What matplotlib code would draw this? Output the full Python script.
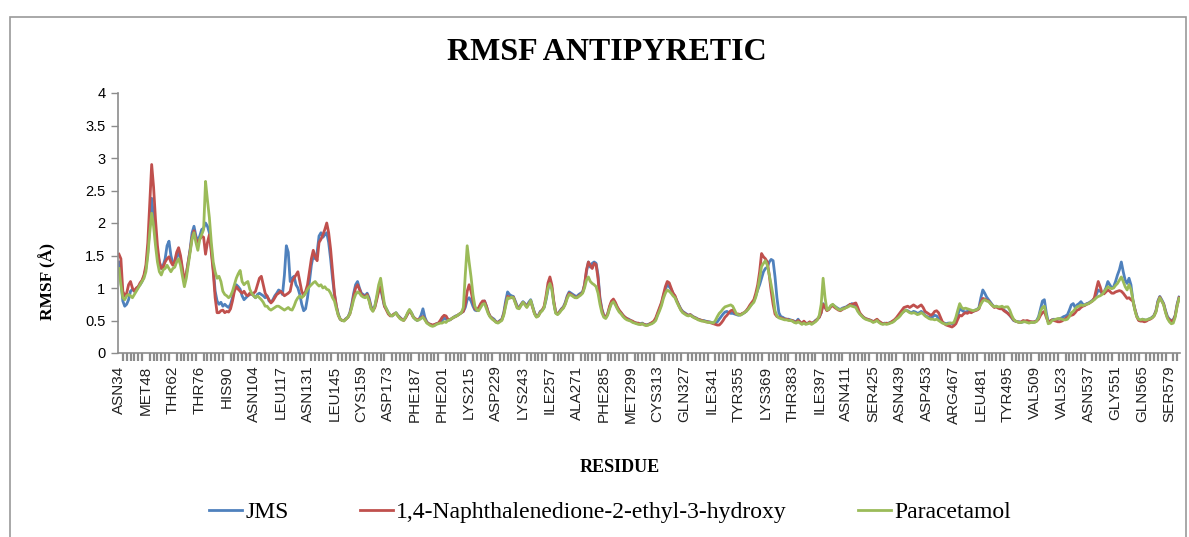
import numpy as np
import matplotlib
matplotlib.use("Agg")
import matplotlib.pyplot as plt
from matplotlib.patches import Rectangle
from matplotlib.ticker import MultipleLocator

# Etiquetas de residuo (una cada 14 posiciones)
residue_labels = [
    "ASN34", "MET48", "THR62", "THR76", "HIS90", "ASN104", "LEU117", "ASN131",
    "LEU145", "CYS159", "ASP173", "PHE187", "PHE201", "LYS215", "ASP229", "LYS243",
    "ILE257", "ALA271", "PHE285", "MET299", "CYS313", "GLN327", "ILE341", "TYR355",
    "LYS369", "THR383", "ILE397", "ASN411", "SER425", "ASN439", "ASP453", "ARG467",
    "LEU481", "TYR495", "VAL509", "VAL523", "ASN537", "GLY551", "GLN565", "SER579",
]
label_step = 14

# RMSF por residuo [Å]
jms = [
    1.40, 1.10, 0.80, 0.72, 0.75, 0.82, 0.95, 0.98, 0.95, 0.98, 1.02, 1.05, 1.10, 1.18,
    1.30, 1.55, 1.95, 2.38, 2.10, 1.80, 1.55, 1.40, 1.30, 1.35, 1.45, 1.65, 1.72, 1.50,
    1.38, 1.40, 1.48, 1.55, 1.45, 1.25, 1.10, 1.20, 1.40, 1.60, 1.85, 1.95, 1.80, 1.72,
    1.80, 1.90, 1.92, 2.00, 1.95, 1.85, 1.60, 1.30, 0.95, 0.80, 0.75, 0.78, 0.72, 0.75,
    0.72, 0.70, 0.75, 0.85, 0.98, 1.05, 1.02, 0.98, 0.88, 0.82, 0.85, 0.88, 0.90, 0.92,
    0.88, 0.85, 0.90, 0.92, 0.90, 0.88, 0.85, 0.88, 0.80, 0.78, 0.82, 0.88, 0.92, 0.97,
    0.95, 0.90, 1.20, 1.65, 1.55, 1.10, 1.15, 1.18, 1.05, 1.00, 0.90, 0.75, 0.65, 0.68,
    0.85, 1.10, 1.35, 1.50, 1.45, 1.55, 1.80, 1.85, 1.78, 1.82, 1.85, 1.70, 1.45, 1.15,
    0.90, 0.72, 0.60, 0.52, 0.50, 0.50, 0.53, 0.55, 0.62, 0.75, 0.92, 1.05, 1.10, 1.00,
    0.92, 0.90, 0.88, 0.92, 0.85, 0.72, 0.66, 0.72, 0.85, 0.98, 1.00, 0.85, 0.72, 0.68,
    0.62, 0.58, 0.57, 0.60, 0.62, 0.58, 0.55, 0.52, 0.51, 0.55, 0.60, 0.66, 0.62, 0.56,
    0.52, 0.50, 0.52, 0.58, 0.68, 0.55, 0.48, 0.45, 0.44, 0.42, 0.43, 0.45, 0.46, 0.47,
    0.50, 0.54, 0.52, 0.50, 0.51, 0.53, 0.55, 0.57, 0.58, 0.60, 0.62, 0.64, 0.70, 0.82,
    0.85, 0.80, 0.72, 0.66, 0.65, 0.68, 0.74, 0.78, 0.80, 0.72, 0.62, 0.56, 0.54, 0.52,
    0.48, 0.47, 0.50, 0.52, 0.62, 0.80, 0.94, 0.90, 0.88, 0.87, 0.80, 0.72, 0.70, 0.75,
    0.79, 0.76, 0.72, 0.78, 0.82, 0.72, 0.62, 0.56, 0.58, 0.64, 0.66, 0.70, 0.82, 0.98,
    1.10, 1.00, 0.78, 0.62, 0.60, 0.64, 0.68, 0.71, 0.78, 0.88, 0.94, 0.92, 0.90, 0.88,
    0.87, 0.90, 0.92, 0.94, 1.05, 1.25, 1.40, 1.32, 1.38, 1.40, 1.38, 1.20, 0.85, 0.68,
    0.58, 0.55, 0.60, 0.70, 0.78, 0.80, 0.76, 0.70, 0.65, 0.62, 0.58, 0.55, 0.53, 0.52,
    0.50, 0.48, 0.47, 0.46, 0.45, 0.45, 0.46, 0.44, 0.43, 0.44, 0.45, 0.46, 0.48, 0.52,
    0.60, 0.68, 0.76, 0.88, 0.98, 1.05, 1.02, 0.98, 0.92, 0.87, 0.80, 0.74, 0.68, 0.64,
    0.62, 0.60, 0.58, 0.59, 0.57, 0.55, 0.54, 0.52, 0.51, 0.50, 0.50, 0.49, 0.48, 0.48,
    0.47, 0.46, 0.46, 0.48, 0.52, 0.56, 0.60, 0.63, 0.64, 0.62, 0.61, 0.61, 0.60, 0.59,
    0.58, 0.59, 0.60, 0.62, 0.64, 0.68, 0.72, 0.76, 0.80, 0.88, 0.97, 1.05, 1.15, 1.25,
    1.30, 1.32, 1.40, 1.44, 1.42, 1.17, 0.85, 0.62, 0.56, 0.55, 0.53, 0.52, 0.52, 0.51,
    0.50, 0.49, 0.48, 0.52, 0.47, 0.46, 0.48, 0.45, 0.46, 0.47, 0.45, 0.47, 0.50, 0.52,
    0.55, 0.62, 0.76, 0.72, 0.66, 0.68, 0.72, 0.74, 0.72, 0.70, 0.68, 0.67, 0.69, 0.70,
    0.71, 0.73, 0.74, 0.76, 0.74, 0.72, 0.66, 0.61, 0.58, 0.55, 0.53, 0.52, 0.51, 0.50,
    0.48, 0.49, 0.51, 0.48, 0.46, 0.45, 0.46, 0.45, 0.46, 0.47, 0.48, 0.50, 0.53, 0.55,
    0.58, 0.62, 0.64, 0.66, 0.65, 0.63, 0.62, 0.64, 0.63, 0.61, 0.62, 0.64, 0.62, 0.58,
    0.56, 0.55, 0.54, 0.56, 0.58, 0.57, 0.53, 0.50, 0.47, 0.46, 0.45, 0.46, 0.46, 0.45,
    0.46, 0.50, 0.58, 0.69, 0.66, 0.64, 0.63, 0.64, 0.65, 0.63, 0.64, 0.66, 0.67, 0.70,
    0.85, 0.97, 0.92, 0.86, 0.82, 0.78, 0.74, 0.71, 0.72, 0.70, 0.69, 0.69, 0.66, 0.64,
    0.61, 0.58, 0.54, 0.50, 0.49, 0.48, 0.48, 0.47, 0.48, 0.49, 0.48, 0.47, 0.48, 0.47,
    0.48, 0.50, 0.56, 0.68, 0.80, 0.82, 0.62, 0.48, 0.49, 0.51, 0.52, 0.51, 0.52, 0.53,
    0.54, 0.56, 0.57, 0.59, 0.66, 0.74, 0.76, 0.70, 0.74, 0.76, 0.79, 0.75, 0.74, 0.76,
    0.77, 0.79, 0.81, 0.84, 0.90, 0.97, 0.95, 0.92, 0.94, 1.00, 1.10, 1.05, 1.00, 1.02,
    1.10, 1.20, 1.28, 1.40, 1.25, 1.12, 1.07, 1.15, 1.05, 0.82, 0.68, 0.58, 0.51, 0.50,
    0.52, 0.51, 0.50, 0.52, 0.53, 0.55, 0.58, 0.65, 0.80, 0.87, 0.82, 0.76, 0.65, 0.56,
    0.52, 0.50, 0.51, 0.58, 0.75, 0.86,
]

naftalenodiona = [
    1.52, 1.45, 0.95, 0.88, 0.92, 1.05, 1.10, 1.00, 0.95, 1.00, 1.02, 1.08, 1.12, 1.20,
    1.35, 1.70, 2.30, 2.90, 2.55, 2.05, 1.65, 1.40, 1.30, 1.32, 1.40, 1.45, 1.48, 1.40,
    1.35, 1.42, 1.55, 1.62, 1.50, 1.30, 1.12, 1.22, 1.40, 1.58, 1.78, 1.88, 1.75, 1.70,
    1.75, 1.80, 1.78, 1.52, 1.70, 1.82, 1.55, 1.25, 0.85, 0.62, 0.62, 0.65, 0.66, 0.62,
    0.64, 0.63, 0.68, 0.80, 0.95, 1.02, 0.98, 0.95, 0.92, 0.95, 0.90, 0.88, 0.92, 0.90,
    0.92, 0.95, 1.05, 1.15, 1.18, 1.05, 0.92, 0.87, 0.82, 0.77, 0.80, 0.85, 0.90, 0.92,
    0.95, 0.92, 0.88, 0.90, 0.92, 0.95, 1.10, 1.15, 1.20, 1.25, 1.10, 0.95, 0.88, 0.95,
    1.05, 1.25, 1.45, 1.58, 1.48, 1.42, 1.70, 1.75, 1.82, 1.90, 2.00, 1.85, 1.60, 1.25,
    0.92, 0.72, 0.58, 0.52, 0.50, 0.50, 0.52, 0.55, 0.60, 0.72, 0.88, 1.00, 1.05, 0.98,
    0.90, 0.88, 0.86, 0.90, 0.82, 0.70, 0.65, 0.70, 0.82, 0.95, 1.02, 0.88, 0.72, 0.66,
    0.60, 0.57, 0.58, 0.60, 0.61, 0.57, 0.54, 0.52, 0.50, 0.54, 0.60, 0.65, 0.61, 0.55,
    0.53, 0.51, 0.52, 0.54, 0.56, 0.52, 0.47, 0.45, 0.44, 0.43, 0.44, 0.45, 0.46, 0.50,
    0.55, 0.58, 0.57, 0.52, 0.51, 0.53, 0.55, 0.56, 0.58, 0.60, 0.62, 0.64, 0.75, 0.95,
    1.05, 0.95, 0.80, 0.68, 0.66, 0.70, 0.76, 0.80, 0.80, 0.72, 0.62, 0.56, 0.53, 0.50,
    0.48, 0.47, 0.49, 0.51, 0.60, 0.75, 0.87, 0.86, 0.85, 0.86, 0.78, 0.70, 0.69, 0.74,
    0.78, 0.75, 0.71, 0.76, 0.80, 0.70, 0.61, 0.56, 0.57, 0.63, 0.66, 0.72, 0.88, 1.08,
    1.17, 1.05, 0.80, 0.63, 0.60, 0.63, 0.67, 0.70, 0.76, 0.86, 0.92, 0.90, 0.88, 0.86,
    0.85, 0.88, 0.90, 0.93, 1.05, 1.28, 1.40, 1.35, 1.30, 1.38, 1.36, 1.15, 0.82, 0.66,
    0.57, 0.55, 0.60, 0.72, 0.80, 0.83, 0.78, 0.71, 0.66, 0.62, 0.58, 0.55, 0.53, 0.51,
    0.50, 0.49, 0.47, 0.46, 0.46, 0.44, 0.45, 0.44, 0.43, 0.43, 0.45, 0.47, 0.49, 0.54,
    0.62, 0.70, 0.78, 0.90, 1.02, 1.10, 1.08, 1.00, 0.92, 0.88, 0.80, 0.73, 0.67, 0.63,
    0.61, 0.59, 0.58, 0.59, 0.56, 0.55, 0.53, 0.52, 0.51, 0.50, 0.49, 0.48, 0.48, 0.47,
    0.46, 0.45, 0.44, 0.43, 0.43, 0.46, 0.50, 0.55, 0.58, 0.62, 0.65, 0.66, 0.62, 0.60,
    0.60, 0.59, 0.61, 0.62, 0.65, 0.69, 0.74, 0.78, 0.82, 0.92, 1.05, 1.25, 1.53, 1.48,
    1.45, 1.40, 1.20, 0.95, 0.75, 0.60, 0.56, 0.55, 0.54, 0.53, 0.52, 0.52, 0.51, 0.50,
    0.50, 0.48, 0.47, 0.50, 0.48, 0.45, 0.49, 0.46, 0.45, 0.48, 0.46, 0.47, 0.49, 0.52,
    0.55, 0.62, 0.75, 0.70, 0.65, 0.67, 0.71, 0.73, 0.70, 0.68, 0.66, 0.65, 0.67, 0.69,
    0.70, 0.72, 0.75, 0.74, 0.76, 0.77, 0.70, 0.62, 0.58, 0.55, 0.53, 0.52, 0.51, 0.50,
    0.48, 0.50, 0.52, 0.49, 0.47, 0.45, 0.45, 0.46, 0.45, 0.47, 0.49, 0.51, 0.54, 0.58,
    0.62, 0.66, 0.70, 0.71, 0.72, 0.70, 0.72, 0.74, 0.72, 0.70, 0.72, 0.74, 0.70, 0.64,
    0.62, 0.60, 0.58, 0.60, 0.64, 0.65, 0.62, 0.55, 0.48, 0.45, 0.43, 0.42, 0.41, 0.40,
    0.42, 0.45, 0.52, 0.58, 0.57, 0.60, 0.62, 0.61, 0.63, 0.62, 0.64, 0.65, 0.66, 0.68,
    0.78, 0.84, 0.83, 0.81, 0.80, 0.76, 0.73, 0.70, 0.71, 0.69, 0.68, 0.68, 0.65, 0.63,
    0.61, 0.58, 0.55, 0.51, 0.49, 0.48, 0.47, 0.48, 0.50, 0.49, 0.50, 0.49, 0.48, 0.48,
    0.48, 0.49, 0.52, 0.58, 0.62, 0.64, 0.55, 0.48, 0.49, 0.51, 0.50, 0.49, 0.48, 0.48,
    0.49, 0.51, 0.53, 0.55, 0.57, 0.58, 0.59, 0.62, 0.66, 0.67, 0.70, 0.72, 0.73, 0.75,
    0.76, 0.78, 0.80, 0.85, 0.98, 1.10, 1.02, 0.92, 0.91, 0.94, 0.97, 0.95, 0.92, 0.92,
    0.94, 0.95, 0.96, 0.95, 0.92, 0.88, 0.84, 0.85, 0.82, 0.80, 0.68, 0.56, 0.50, 0.49,
    0.49, 0.48, 0.49, 0.51, 0.52, 0.54, 0.57, 0.64, 0.78, 0.86, 0.80, 0.75, 0.63, 0.54,
    0.51, 0.49, 0.50, 0.57, 0.73, 0.85,
]

paracetamol = [
    1.30, 1.05, 0.85, 0.82, 0.88, 0.90, 0.88, 0.85, 0.90, 0.95, 1.00, 1.05, 1.10, 1.15,
    1.25, 1.50, 1.85, 2.15, 1.95, 1.65, 1.40, 1.25, 1.20, 1.28, 1.30, 1.35, 1.30, 1.25,
    1.30, 1.32, 1.40, 1.45, 1.35, 1.18, 1.02, 1.15, 1.35, 1.55, 1.75, 1.85, 1.70, 1.58,
    1.75, 1.82, 1.90, 2.64, 2.35, 2.08, 1.70, 1.40, 1.25, 1.15, 1.18, 1.10, 0.95, 0.90,
    0.88, 0.85, 0.88, 0.95, 1.05, 1.15, 1.22, 1.27, 1.10, 1.05, 1.08, 1.10, 0.98, 0.92,
    0.88, 0.85, 0.88, 0.85, 0.82, 0.78, 0.72, 0.72, 0.68, 0.66, 0.68, 0.70, 0.72, 0.72,
    0.70, 0.68, 0.66, 0.68, 0.70, 0.67, 0.66, 0.72, 0.80, 0.85, 0.88, 0.85, 0.88, 0.92,
    0.98, 1.02, 1.05, 1.08, 1.10, 1.06, 1.03, 1.05, 1.00, 1.02, 0.98, 0.97, 0.92, 0.85,
    0.80, 0.68, 0.58, 0.52, 0.50, 0.49, 0.52, 0.55, 0.60, 0.70, 0.82, 0.90, 0.94, 0.92,
    0.88, 0.86, 0.85, 0.88, 0.80, 0.68, 0.64, 0.72, 0.88, 1.05, 1.15, 0.95, 0.75, 0.68,
    0.62, 0.58, 0.57, 0.59, 0.62, 0.57, 0.53, 0.51, 0.50, 0.55, 0.62, 0.67, 0.62, 0.55,
    0.52, 0.50, 0.51, 0.53, 0.55, 0.51, 0.46, 0.44, 0.42, 0.41, 0.42, 0.44, 0.45, 0.46,
    0.46, 0.48, 0.47, 0.50, 0.51, 0.53, 0.55, 0.56, 0.58, 0.60, 0.62, 0.70, 1.20, 1.65,
    1.40, 1.17, 0.90, 0.72, 0.66, 0.65, 0.70, 0.75, 0.76, 0.68, 0.60, 0.55, 0.52, 0.50,
    0.47, 0.46, 0.48, 0.50, 0.58, 0.72, 0.85, 0.84, 0.86, 0.85, 0.77, 0.69, 0.68, 0.73,
    0.78, 0.74, 0.70, 0.75, 0.81, 0.71, 0.60, 0.55, 0.57, 0.62, 0.65, 0.70, 0.84, 1.00,
    1.07, 0.98, 0.76, 0.61, 0.59, 0.62, 0.66, 0.69, 0.75, 0.84, 0.90, 0.89, 0.87, 0.85,
    0.85, 0.87, 0.89, 0.92, 1.00, 1.12, 1.17, 1.10, 1.07, 1.05, 1.02, 0.92, 0.75, 0.62,
    0.55, 0.53, 0.58, 0.68, 0.76, 0.79, 0.74, 0.68, 0.63, 0.60, 0.56, 0.53, 0.51, 0.50,
    0.49, 0.47, 0.46, 0.45, 0.44, 0.44, 0.45, 0.43, 0.42, 0.43, 0.44, 0.45, 0.47, 0.50,
    0.58, 0.65, 0.73, 0.84, 0.92, 0.97, 0.95, 0.92, 0.88, 0.85, 0.78, 0.72, 0.66, 0.62,
    0.60, 0.58, 0.57, 0.58, 0.56, 0.54, 0.53, 0.51, 0.50, 0.49, 0.49, 0.48, 0.47, 0.47,
    0.47, 0.46, 0.50, 0.56, 0.61, 0.64, 0.68, 0.71, 0.72, 0.73, 0.74, 0.72, 0.66, 0.60,
    0.59, 0.58, 0.60, 0.62, 0.64, 0.67, 0.71, 0.75, 0.78, 0.86, 0.98, 1.15, 1.33, 1.38,
    1.42, 1.35, 1.20, 1.05, 0.88, 0.65, 0.57, 0.54, 0.53, 0.52, 0.51, 0.51, 0.50, 0.50,
    0.49, 0.47, 0.46, 0.48, 0.46, 0.44, 0.46, 0.44, 0.45, 0.46, 0.44, 0.46, 0.48, 0.51,
    0.58, 0.75, 1.15, 0.85, 0.66, 0.68, 0.73, 0.75, 0.72, 0.69, 0.67, 0.66, 0.68, 0.68,
    0.70, 0.71, 0.73, 0.72, 0.71, 0.70, 0.64, 0.60, 0.57, 0.54, 0.52, 0.51, 0.50, 0.49,
    0.47, 0.48, 0.50, 0.47, 0.45, 0.44, 0.45, 0.44, 0.45, 0.46, 0.47, 0.49, 0.52, 0.54,
    0.57, 0.61, 0.64, 0.66, 0.64, 0.62, 0.61, 0.62, 0.61, 0.59, 0.60, 0.62, 0.60, 0.57,
    0.55, 0.53, 0.52, 0.52, 0.51, 0.52, 0.50, 0.48, 0.46, 0.45, 0.44, 0.45, 0.46, 0.46,
    0.47, 0.55, 0.66, 0.76, 0.70, 0.68, 0.69, 0.68, 0.67, 0.66, 0.65, 0.66, 0.67, 0.69,
    0.75, 0.80, 0.82, 0.80, 0.79, 0.76, 0.73, 0.71, 0.72, 0.71, 0.71, 0.72, 0.70, 0.71,
    0.71, 0.66, 0.58, 0.52, 0.49, 0.48, 0.47, 0.47, 0.48, 0.48, 0.47, 0.46, 0.47, 0.47,
    0.47, 0.49, 0.54, 0.64, 0.70, 0.72, 0.58, 0.45, 0.46, 0.50, 0.51, 0.52, 0.53, 0.53,
    0.52, 0.51, 0.51, 0.52, 0.56, 0.62, 0.64, 0.68, 0.71, 0.72, 0.74, 0.73, 0.74, 0.75,
    0.76, 0.78, 0.80, 0.82, 0.85, 0.87, 0.88, 0.90, 0.94, 0.98, 1.02, 1.00, 0.99, 1.00,
    1.04, 1.07, 1.12, 1.17, 1.10, 1.02, 0.97, 1.05, 0.98, 0.82, 0.66, 0.56, 0.52, 0.51,
    0.52, 0.51, 0.51, 0.52, 0.53, 0.54, 0.57, 0.63, 0.77, 0.85, 0.80, 0.74, 0.62, 0.53,
    0.48, 0.45, 0.46, 0.55, 0.72, 0.84,
]

series = [
    (jms, "#4F81BD", "JMS"),
    (naftalenodiona, "#C0504D", "1,4-Naphthalenedione-2-ethyl-3-hydroxy"),
    (paracetamol, "#9BBB59", "Paracetamol"),
]

W, H = 1189, 537
fig = plt.figure(figsize=(W / 100, H / 100), dpi=100)
ax = fig.add_axes([118 / W, 1 - 353 / H, (1180 - 118) / W, (353 - 93) / H])

for vals, color, name in series:
    ax.plot(np.arange(len(vals)), vals, color=color, lw=2.0, label=name,
            solid_joinstyle="round")

n = len(jms)
ax.set_xlim(-0.5, n - 0.5)
ax.set_ylim(0, 4)

# Eje y
yt = np.arange(0, 4.01, 0.5)
ax.set_yticks(yt)
ax.set_yticklabels([f"{v:g}" for v in yt], fontsize=10.5, family="Liberation Sans")
ax.tick_params(axis="y", length=5, width=1.0, color="#8c8c8c", pad=4)

# Eje x: etiquetas cada 14 residuos y marcas densas
ax.set_xticks(np.arange(len(residue_labels)) * label_step)
ax.set_xticklabels(residue_labels, rotation=90, fontsize=11, family="Liberation Sans",
                   color="#222222")
ax.tick_params(axis="x", which="major", length=0, pad=9)
ax.xaxis.set_minor_locator(MultipleLocator(2))
ax.tick_params(axis="x", which="minor", length=6, width=1.6, color="#8c8c8c")

for side in ("top", "right"):
    ax.spines[side].set_visible(False)
for side in ("left", "bottom"):
    ax.spines[side].set_color("#8c8c8c")
    ax.spines[side].set_linewidth(1.2)

# Textos
serif = "Liberation Serif"
fig.text(607 / W, 1 - 52 / H, "RMSF ANTIPYRETIC", ha="center", va="center",
         family=serif, weight="bold", fontsize=23)
fig.text(48 / W, 1 - 282 / H, "RMSF (Å)", ha="center", va="center", rotation=90,
         family=serif, weight="bold", fontsize=12.5)
fig.text(620 / W, 1 - 468 / H, "RESIDUE", ha="center", va="center",
         family=serif, weight="bold", fontsize=13)

fig.legend(loc="center", bbox_to_anchor=(610 / W, 1 - 512 / H), ncol=3, frameon=False,
           prop={"family": serif, "size": 17}, handlelength=1.4, handletextpad=0.15,
           columnspacing=3.0)

# Marco del gráfico
fig.add_artist(Rectangle((10 / W, -0.05), (1186 - 10) / W, (H - 17) / H + 0.05,
                         transform=fig.transFigure, fill=False, ec="#9a9a9a", lw=1.2))

fig.savefig("out.png", dpi=100)
